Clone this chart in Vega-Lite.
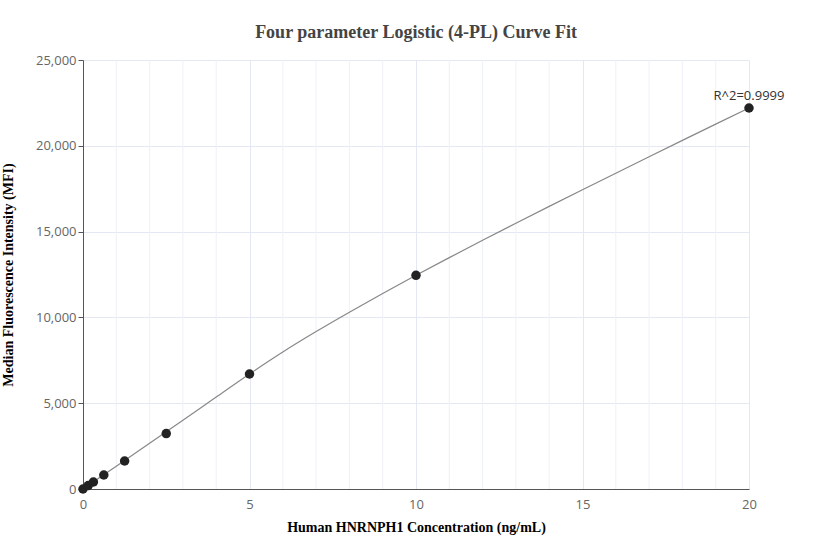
{
  "$schema": "https://vega.github.io/schema/vega-lite/v6.json",
  "autosize": "none",
  "width": 666,
  "height": 429,
  "padding": {"left": 83, "top": 60, "right": 83, "bottom": 71},
  "background": "white",
  "title": {
    "text": "Four parameter Logistic (4-PL) Curve Fit",
    "font": "Liberation Serif",
    "fontSize": 18,
    "fontWeight": "bold",
    "color": "#444444",
    "anchor": "middle",
    "offset": 12
  },
  "config": {
    "view": {"stroke": null},
    "axis": {
      "labelFont": "Open Sans",
      "labelFontSize": 13,
      "labelColor": "#666666",
      "labelFlush": false,
      "titleFont": "Liberation Serif",
      "titleFontSize": 14,
      "titleFontWeight": "bold",
      "titleColor": "#000000",
      "domainColor": "#555555",
      "gridColor": "#e3e8f2",
      "gridWidth": 1
    }
  },
  "datasets": {
    "points": [
      {"conc": 0, "mfi": 0},
      {"conc": 0.156, "mfi": 200},
      {"conc": 0.3125, "mfi": 408},
      {"conc": 0.625, "mfi": 816},
      {"conc": 1.25, "mfi": 1632},
      {"conc": 2.5, "mfi": 3230},
      {"conc": 5, "mfi": 6702},
      {"conc": 10, "mfi": 12450},
      {"conc": 20, "mfi": 22203}
    ],
    "curve": [
      {"conc": 0, "mfi": 0},
      {"conc": 0.5, "mfi": 665},
      {"conc": 1, "mfi": 1330},
      {"conc": 2, "mfi": 2665},
      {"conc": 3, "mfi": 4007},
      {"conc": 4, "mfi": 5357},
      {"conc": 5, "mfi": 6702},
      {"conc": 6, "mfi": 7982},
      {"conc": 7, "mfi": 9172},
      {"conc": 8, "mfi": 10302},
      {"conc": 9, "mfi": 11392},
      {"conc": 10, "mfi": 12452},
      {"conc": 11, "mfi": 13482},
      {"conc": 12, "mfi": 14492},
      {"conc": 13, "mfi": 15487},
      {"conc": 14, "mfi": 16469},
      {"conc": 15, "mfi": 17441},
      {"conc": 16, "mfi": 18405},
      {"conc": 17, "mfi": 19363},
      {"conc": 18, "mfi": 20315},
      {"conc": 19, "mfi": 21262},
      {"conc": 20, "mfi": 22203}
    ],
    "label": [
      {"conc": 20, "mfi": 22203, "text": "R^2=0.9999"}
    ],
    "minor": [
      {"v": 1}, {"v": 2}, {"v": 3}, {"v": 4},
      {"v": 6}, {"v": 7}, {"v": 8}, {"v": 9},
      {"v": 11}, {"v": 12}, {"v": 13}, {"v": 14},
      {"v": 16}, {"v": 17}, {"v": 18}, {"v": 19}
    ]
  },
  "layer": [
    {
      "data": {"name": "minor"},
      "mark": {"type": "rule", "color": "#eef1f8", "strokeWidth": 1},
      "encoding": {
        "x": {"field": "v", "type": "quantitative", "scale": {"domain": [0, 20]}}
      }
    },
    {
      "data": {"name": "curve"},
      "mark": {"type": "line", "color": "#888888", "strokeWidth": 1.2, "interpolate": "monotone"},
      "encoding": {
        "x": {
          "field": "conc", "type": "quantitative",
          "scale": {"domain": [0, 20], "nice": false},
          "axis": {
            "title": "Human HNRNPH1 Concentration (ng/mL)",
            "values": [0, 5, 10, 15, 20],
            "ticks": false,
            "labelPadding": 9,
            "titlePadding": 9,
            "grid": true
          }
        },
        "y": {
          "field": "mfi", "type": "quantitative",
          "scale": {"domain": [0, 25000], "nice": false},
          "axis": {
            "title": "Median Fluorescence Intensity (MFI)",
            "values": [0, 5000, 10000, 15000, 20000, 25000],
            "format": ",d",
            "tickSize": 5,
            "tickColor": "#555555",
            "labelPadding": 2,
            "titlePadding": 20,
            "grid": true
          }
        }
      }
    },
    {
      "data": {"name": "points"},
      "mark": {"type": "circle", "size": 90, "color": "#222222", "opacity": 1},
      "encoding": {
        "x": {"field": "conc", "type": "quantitative"},
        "y": {"field": "mfi", "type": "quantitative"}
      }
    },
    {
      "data": {"name": "label"},
      "mark": {"type": "text", "font": "Open Sans", "fontSize": 13, "color": "#333333", "dy": -12, "align": "center"},
      "encoding": {
        "x": {"field": "conc", "type": "quantitative"},
        "y": {"field": "mfi", "type": "quantitative"},
        "text": {"field": "text"}
      }
    }
  ]
}
